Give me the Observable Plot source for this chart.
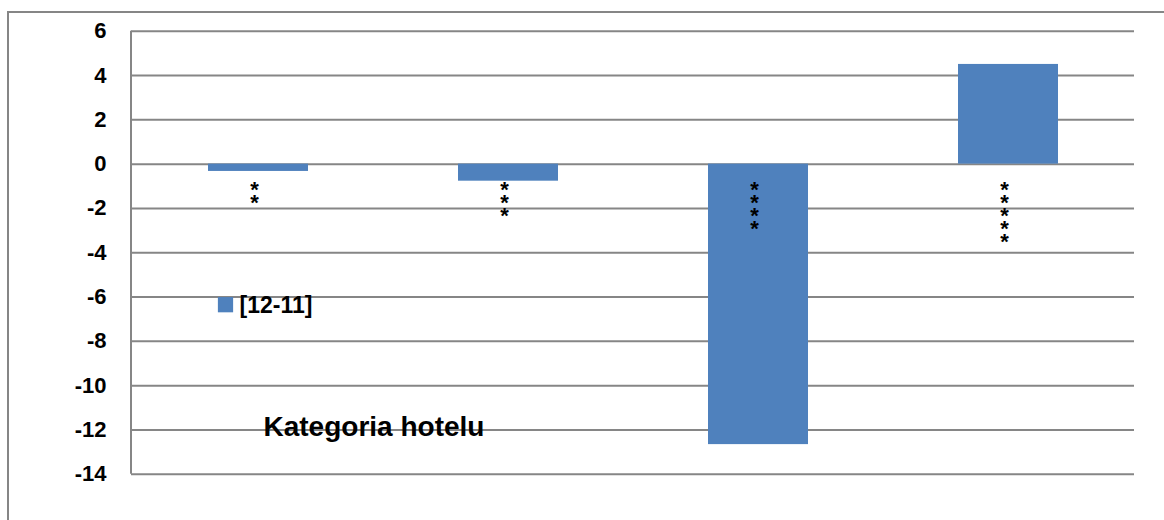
<!DOCTYPE html>
<html>
<head>
<meta charset="utf-8">
<script src="https://cdn.jsdelivr.net/npm/d3@7"></script>
<script src="https://cdn.jsdelivr.net/npm/@observablehq/plot@0.6"></script>
<style>
  html, body { margin: 0; padding: 0; background: #fff; }
  #wrap { position: relative; width: 1164px; height: 520px; overflow: hidden; }
  #frame { position: absolute; left: 7px; top: 11px; width: 1200px; height: 600px;
           border-left: 2px solid #868686; border-top: 2px solid #868686; box-sizing: border-box; }
  #chart { position: absolute; left: 0; top: 0; }
</style>
</head>
<body>
<div id="wrap"><div id="frame"></div><div id="chart"></div></div>
<script>
// Data
const categories = ["**", "***", "****", "*****"];
const values = [-0.33, -0.77, -12.66, 4.5];
const yTicks = [-14, -12, -10, -8, -6, -4, -2, 0, 2, 4, 6];
const seriesName = "[12-11]";
const axisTitle = "Kategoria hotelu";

const data = categories.map((c, i) => ({category: c, value: values[i]}));
const barColor = "#4F81BD";
const gridColor = "#868686";
const font = "'Liberation Sans', Arial, sans-serif";

const leftLine = (index, scales, values, dims) => {
  const g = d3.create("svg:line")
    .attr("x1", dims.marginLeft).attr("x2", dims.marginLeft)
    .attr("y1", scales.y(yTicks[yTicks.length - 1])).attr("y2", scales.y(yTicks[0]))
    .attr("stroke", gridColor).attr("stroke-width", 2);
  return g.node();
};

const chart = Plot.plot({
  width: 1164,
  height: 520,
  marginLeft: 131,
  marginRight: 30,
  marginTop: 30.7,
  marginBottom: 46.2,
  style: {fontFamily: font, fontSize: "22px", fontWeight: "bold", color: "#000", background: "transparent"},
  x: {domain: categories, paddingInner: 0.6, paddingOuter: 0.3, axis: null},
  y: {domain: [-14, 6], ticks: yTicks, label: null},
  marks: [
    Plot.gridY(yTicks, {stroke: gridColor, strokeWidth: 2, strokeOpacity: 1}),
    leftLine,
    Plot.axisY(yTicks, {tickSize: 0, tickPadding: 25, fontSize: 22, fontWeight: "bold", label: null, fill: "#000", tickFormat: d => String(d)}),
    Plot.barY(data, {x: "category", y: "value", fill: barColor}),
    Plot.text(data, {
      x: "category", y: 0,
      text: d => d.category.split("").join("\n"),
      lineAnchor: "top", lineHeight: 0.59, fontSize: 22, fontWeight: "bold",
      fill: "#000", dy: 24, dx: -4
    }),
    Plot.dot([seriesName], {frameAnchor: "top-left", dx: 94, dy: 273.5, symbol: "square", r: 8.6, fill: barColor, stroke: null}),
    Plot.text([seriesName], {frameAnchor: "top-left", dx: 108, dy: 274.3, textAnchor: "start", lineAnchor: "middle", fontSize: 23, fontWeight: "bold", fill: "#000"}),
    Plot.text([axisTitle], {frameAnchor: "top-left", dx: 132, dy: 396, textAnchor: "start", lineAnchor: "middle", fontSize: 28, fontWeight: "bold", fill: "#000"})
  ]
});
document.getElementById("chart").appendChild(chart);
</script>
</body>
</html>
